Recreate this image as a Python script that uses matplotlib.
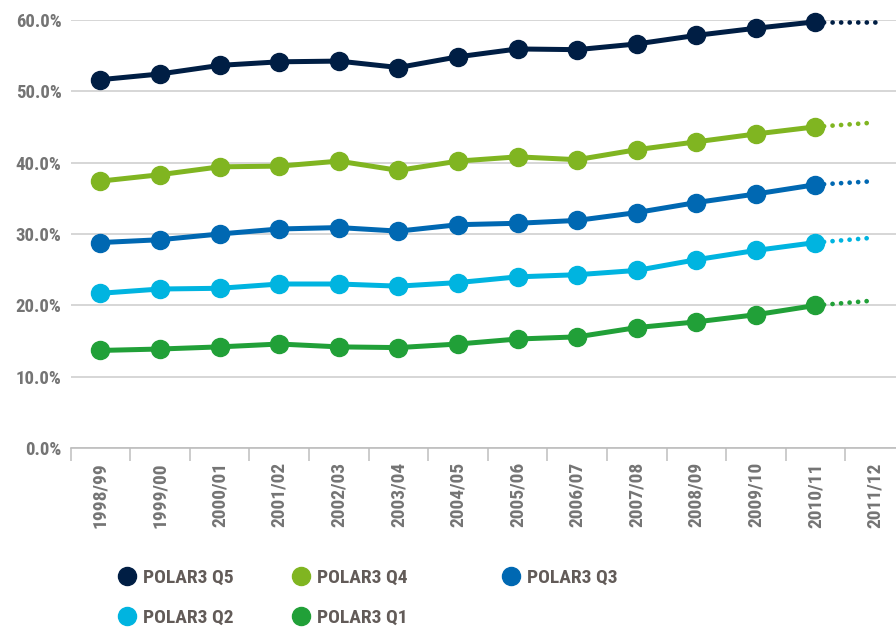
import numpy as np
import matplotlib
matplotlib.use("Agg")
import matplotlib.pyplot as plt
from matplotlib.lines import Line2D

# Creating dataset
years = ["1998/99", "1999/00", "2000/01", "2001/02", "2002/03", "2003/04",
         "2004/05", "2005/06", "2006/07", "2007/08", "2008/09", "2009/10",
         "2010/11", "2011/12"]

q5 = [51.6, 52.4, 53.6, 54.1, 54.2, 53.3, 54.8, 55.9, 55.8, 56.6, 57.8, 58.8, 59.7]
q4 = [37.4, 38.3, 39.4, 39.5, 40.2, 38.9, 40.2, 40.8, 40.4, 41.8, 42.9, 44.0, 45.0]
q3 = [28.8, 29.2, 30.0, 30.7, 30.9, 30.4, 31.3, 31.5, 31.9, 33.0, 34.4, 35.6, 36.9]
q2 = [21.7, 22.3, 22.4, 23.0, 23.0, 22.7, 23.2, 24.0, 24.3, 24.9, 26.4, 27.7, 28.8]
q1 = [13.7, 13.9, 14.2, 14.6, 14.2, 14.1, 14.6, 15.3, 15.6, 16.9, 17.7, 18.7, 20.0]

# projected 2011/12 values (dotted)
proj = {"Q5": 59.7, "Q4": 45.6, "Q3": 37.4, "Q2": 29.5, "Q1": 20.7}

series = [("POLAR3 Q5", q5, "#001e44", proj["Q5"]),
          ("POLAR3 Q4", q4, "#80b521", proj["Q4"]),
          ("POLAR3 Q3", q3, "#0068b2", proj["Q3"]),
          ("POLAR3 Q2", q2, "#00b4e0", proj["Q2"]),
          ("POLAR3 Q1", q1, "#21a038", proj["Q1"])]

FONT = ["Roboto Condensed", "Liberation Sans Narrow", "Roboto", "DejaVu Sans"]
TICK_COLOR = "#747474"
LEGEND_COLOR = "#625b58"

fig = plt.figure(figsize=(8.96, 6.28), dpi=100)
ax = fig.add_axes([0.0789, 0.2861, 0.931, 0.6826])

x = np.arange(len(years))
handles = {}
for name, vals, col, p in series:
    n = len(vals)
    ax.plot([x[n - 1], x[n]], [vals[-1] / 100, p / 100], color=col, lw=3.4,
            linestyle=(0, (0.01, 1.8)), dash_capstyle="round", clip_on=False, zorder=3)
    ax.plot(x[:n], np.array(vals) / 100, color=col, lw=3.6, marker="o",
            markersize=13, clip_on=False, zorder=4)
    handles[name] = Line2D([], [], color=col, marker="o", linestyle="none", markersize=13)

ax.set_xlim(-0.5, len(years) - 0.5)
ax.set_ylim(0, 0.6)
ax.set_yticks(np.arange(0, 0.61, 0.1))
ax.set_yticklabels(["%.1f%%" % (v * 100) for v in np.arange(0, 0.61, 0.1)])
ax.set_xticks(x)
ax.set_xticklabels(years, rotation=90)
ax.set_xticks(np.arange(-0.5, len(years), 1.0), minor=True)

ax.grid(axis="y", color="#cfcfcf", lw=1.2)
ax.set_axisbelow(True)
for s in ["top", "right", "left"]:
    ax.spines[s].set_visible(False)
ax.spines["bottom"].set_color("#bdbdbd")
ax.spines["bottom"].set_linewidth(1.2)

ax.tick_params(axis="y", length=0, pad=6.5, labelcolor=TICK_COLOR)
ax.tick_params(axis="x", which="major", length=0, pad=10, labelcolor=TICK_COLOR)
ax.tick_params(axis="x", which="minor", length=9, width=1.2, color="#c4c4c4")

for lab in ax.get_yticklabels():
    lab.set_family(FONT)
    lab.set_fontweight("bold")
    lab.set_fontsize(13.5)
for lab in ax.get_xticklabels():
    lab.set_family(FONT)
    lab.set_fontweight("bold")
    lab.set_fontsize(14)

# legend: three columns placed separately
columns = [(["POLAR3 Q5", "POLAR3 Q2"], 117.5),
           (["POLAR3 Q4", "POLAR3 Q1"], 291.5),
           (["POLAR3 Q3"], 501.5)]
for names, px in columns:
    leg = fig.legend([handles[n] for n in names], names, loc="upper left",
                     bbox_to_anchor=(px / 896, 1 - 569 / 628), frameon=False,
                     borderpad=0, borderaxespad=0, handlelength=1.0, handletextpad=0.3,
                     labelspacing=1.13, prop={"family": FONT, "weight": "bold", "size": 14})
    for t in leg.get_texts():
        t.set_color(LEGEND_COLOR)

fig.savefig("out.png", dpi=100)
